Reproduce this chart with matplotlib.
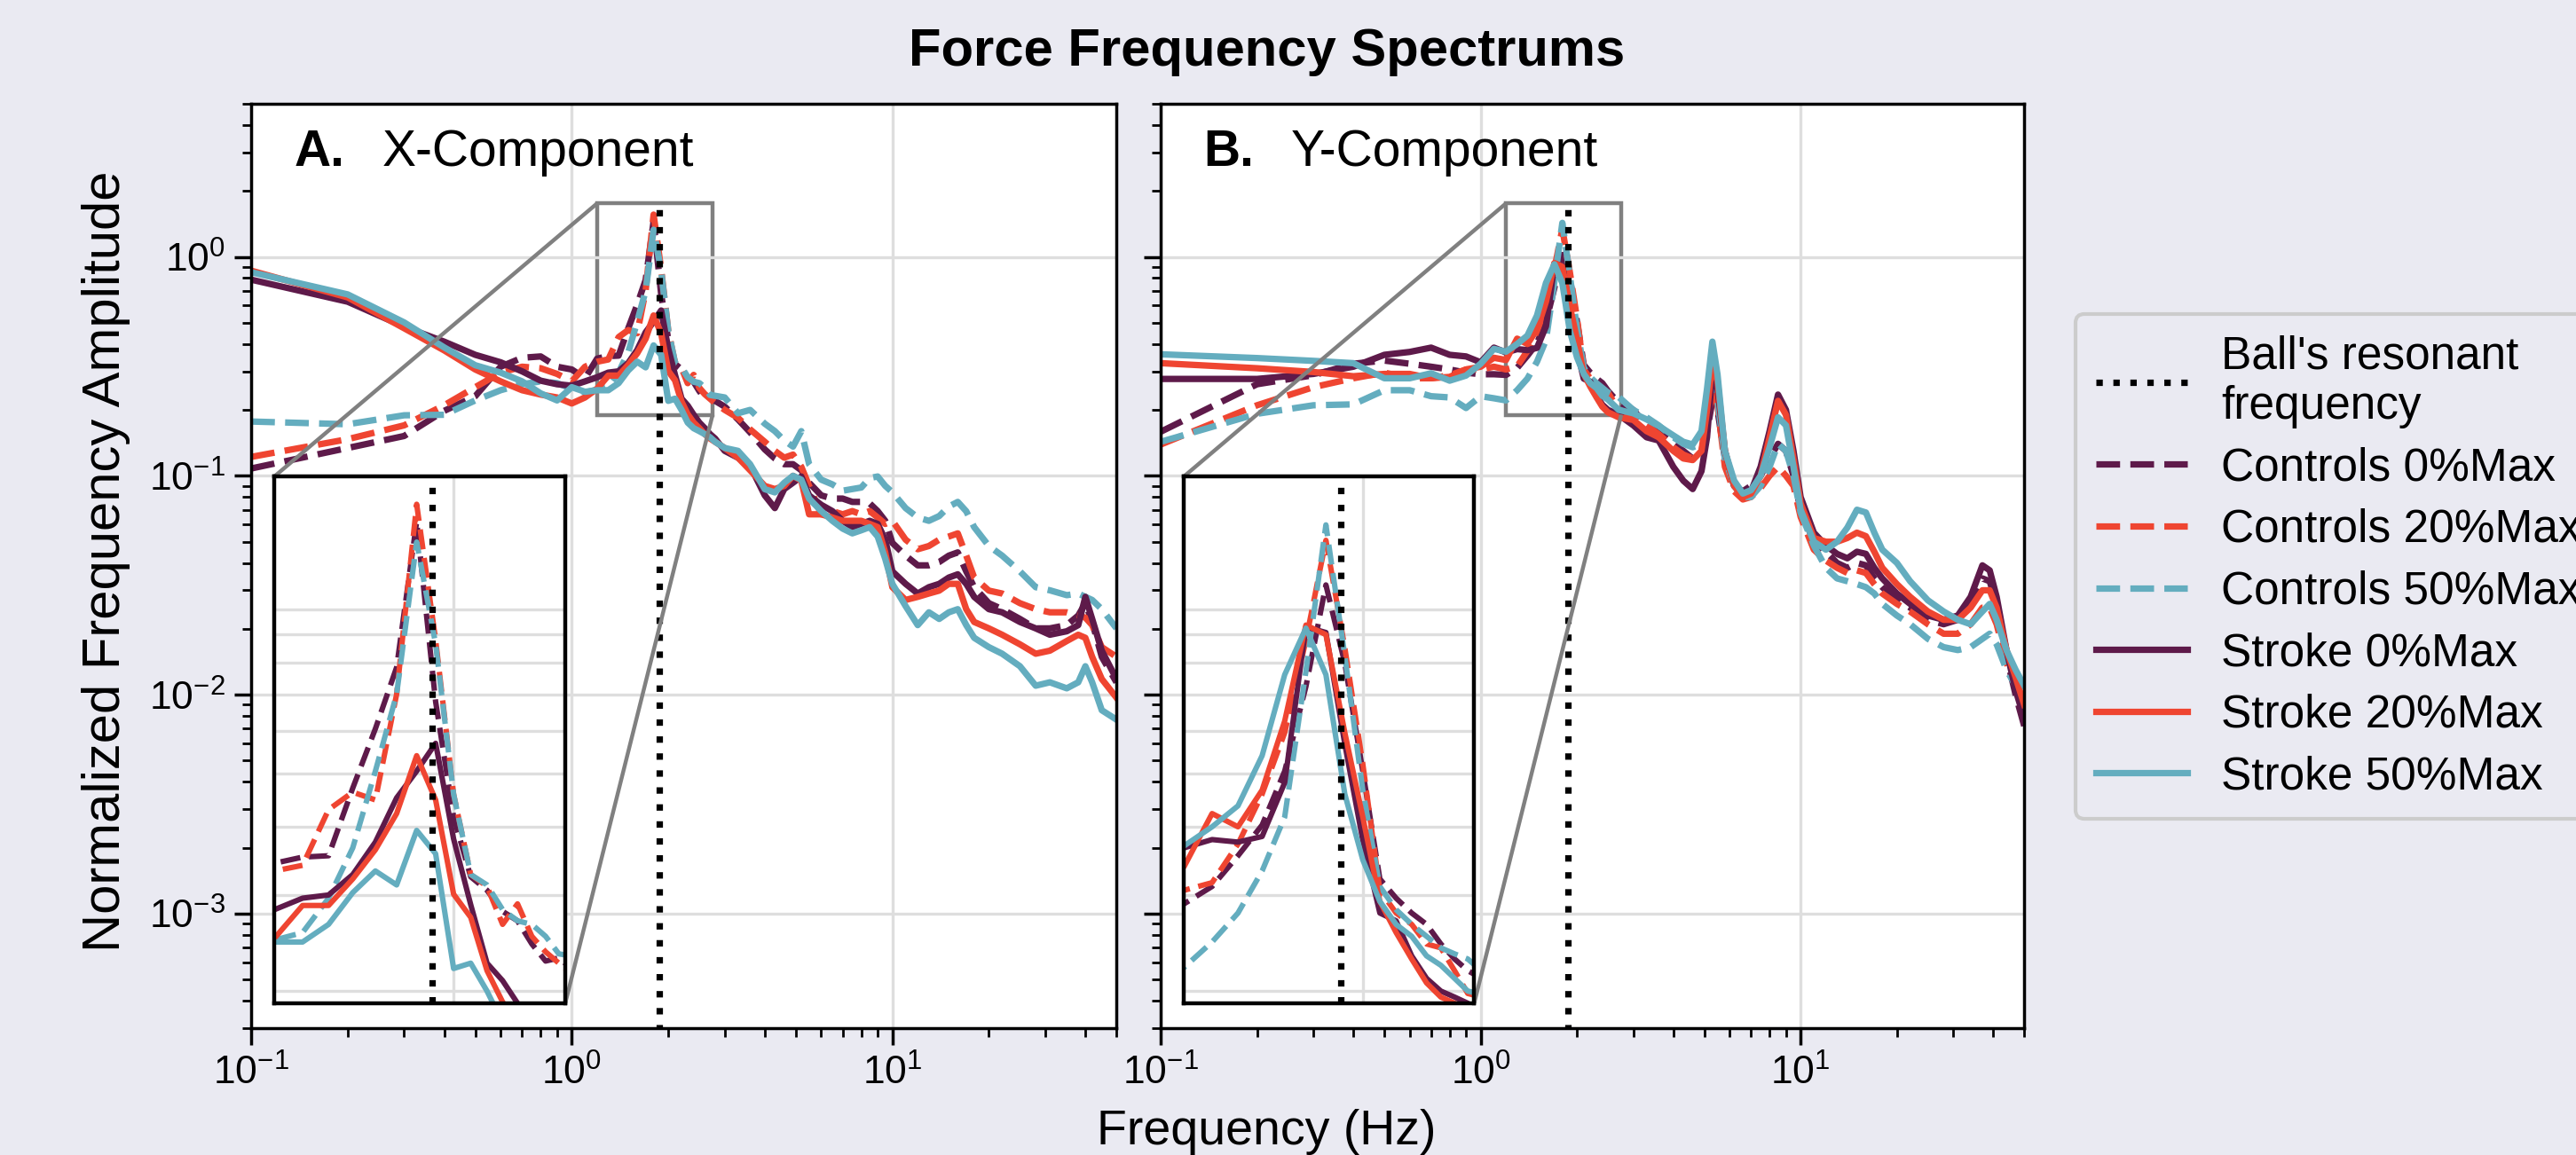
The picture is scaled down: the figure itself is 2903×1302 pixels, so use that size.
import matplotlib.pyplot as plt
from matplotlib.ticker import FixedLocator, NullLocator
from mpl_toolkits.axes_grid1.inset_locator import mark_inset

plt.rcParams['font.family'] = ['Liberation Sans', 'DejaVu Sans']
plt.rcParams['mathtext.fontset'] = 'custom'
plt.rcParams['mathtext.rm'] = 'Liberation Sans'
plt.rcParams['mathtext.it'] = 'Liberation Sans:italic'
plt.rcParams['mathtext.bf'] = 'Liberation Sans:bold'

# ==========================================
# data
# ==========================================
freq_res = 1.88  # ball's resonant frequency (Hz)

# frequency bins, X-component
freq_x = [0.1, 0.2, 0.3, 0.4, 0.5, 0.6, 0.7, 0.8, 0.9, 1.0, 1.1, 1.2, 1.3, 1.4,
          1.5, 1.6, 1.7, 1.8, 1.9, 2.0, 2.1, 2.2, 2.3, 2.4, 2.5, 2.6, 2.7,
          2.8, 3.0, 3.3, 3.6, 4.0, 4.3, 4.6, 4.9, 5.2, 5.5, 6.0, 6.5, 7.0, 7.5,
          8.0, 8.5, 9.0, 9.5, 10, 11, 12, 13, 14, 15, 16, 17, 18, 20, 22, 25,
          28, 31, 35, 38, 40, 42, 45, 50]

x_ctrl_0 = [0.108, 0.134, 0.152, 0.198, 0.231, 0.315, 0.346, 0.351, 0.315, 0.306, 0.279, 0.343, 0.352, 0.354,
            0.471, 0.605, 0.784, 1.45, 0.678, 0.417, 0.324, 0.306, 0.28, 0.269, 0.244, 0.227, 0.23,
            0.22, 0.207, 0.181, 0.158, 0.132, 0.12, 0.113, 0.113, 0.106, 0.093, 0.0814, 0.0787, 0.0787, 0.076,
            0.076, 0.0748, 0.069, 0.0623, 0.0494, 0.0432, 0.039, 0.039, 0.0404, 0.0432, 0.0447, 0.0366, 0.031,
            0.0262, 0.0246, 0.0222, 0.0201, 0.0201, 0.0208, 0.023, 0.0262, 0.0215, 0.0149, 0.0114]
x_ctrl_20 = [0.122, 0.147, 0.17, 0.21, 0.254, 0.296, 0.315, 0.31, 0.292, 0.27, 0.315, 0.332, 0.34, 0.43,
             0.463, 0.448, 0.70, 1.56, 0.88, 0.459, 0.327, 0.311, 0.265, 0.289, 0.252, 0.236, 0.225,
             0.215, 0.2, 0.184, 0.163, 0.143, 0.13, 0.121, 0.125, 0.11, 0.09, 0.0667, 0.069, 0.0667, 0.069,
             0.0667, 0.069, 0.0645, 0.0603, 0.0623, 0.0511, 0.0462, 0.0478, 0.0511, 0.0528, 0.0546, 0.0432, 0.0343,
             0.0299, 0.029, 0.0262, 0.0246, 0.0238, 0.0238, 0.023, 0.0225, 0.0208, 0.0165, 0.0149]
x_ctrl_50 = [0.177, 0.172, 0.189, 0.19, 0.221, 0.246, 0.262, 0.27, 0.265, 0.25, 0.24, 0.248, 0.256, 0.296,
             0.366, 0.506, 0.70, 1.33, 0.865, 0.459, 0.327, 0.313, 0.282, 0.269, 0.265, 0.252, 0.234,
             0.232, 0.228, 0.193, 0.20, 0.173, 0.16, 0.145, 0.136, 0.16, 0.113, 0.096, 0.0914, 0.0855, 0.087,
             0.0884, 0.0977, 0.0993, 0.090, 0.0841, 0.0712, 0.0645, 0.0623, 0.0655, 0.0724, 0.076, 0.0689, 0.0583,
             0.0478, 0.0432, 0.0366, 0.031, 0.030, 0.0285, 0.029, 0.028, 0.0271, 0.0246, 0.0201]
x_stroke_0 = [0.787, 0.624, 0.48, 0.41, 0.357, 0.33, 0.30, 0.272, 0.262, 0.258, 0.27, 0.282, 0.296, 0.30,
              0.327, 0.375, 0.452, 0.506, 0.569, 0.38, 0.288, 0.225, 0.209, 0.19, 0.175, 0.165, 0.155,
              0.148, 0.13, 0.121, 0.111, 0.0814, 0.0712, 0.087, 0.093, 0.0993, 0.0814, 0.0737, 0.069, 0.0623, 0.0583,
              0.0603, 0.0623, 0.0603, 0.0511, 0.0366, 0.0321, 0.029, 0.031, 0.0321, 0.0343, 0.0355, 0.0321, 0.028,
              0.0246, 0.0238, 0.0215, 0.0201, 0.0188, 0.0195, 0.0208, 0.028, 0.0222, 0.0159, 0.0118]
x_stroke_20 = [0.865, 0.653, 0.472, 0.374, 0.306, 0.27, 0.246, 0.235, 0.228, 0.214, 0.228, 0.25, 0.287, 0.287,
               0.321, 0.363, 0.423, 0.54, 0.448, 0.301, 0.273, 0.218, 0.191, 0.175, 0.165, 0.155, 0.148,
               0.143, 0.134, 0.121, 0.106, 0.0899, 0.087, 0.0899, 0.1, 0.095, 0.0667, 0.0667, 0.0645, 0.0623, 0.0623,
               0.0623, 0.0603, 0.0583, 0.0447, 0.031, 0.0271, 0.028, 0.029, 0.0299, 0.0321, 0.0321, 0.0246, 0.0215,
               0.0201, 0.0188, 0.017, 0.0154, 0.0159, 0.0176, 0.0188, 0.0182, 0.0149, 0.0118, 0.0097]
x_stroke_50 = [0.851, 0.674, 0.502, 0.386, 0.32, 0.296, 0.27, 0.238, 0.221, 0.254, 0.242, 0.246, 0.246, 0.265,
               0.303, 0.332, 0.313, 0.394, 0.357, 0.22, 0.225, 0.20, 0.175, 0.165, 0.16, 0.155, 0.15,
               0.143, 0.134, 0.13, 0.113, 0.0869, 0.084, 0.093, 0.1, 0.096, 0.0787, 0.069, 0.0623, 0.0574, 0.0546,
               0.0564, 0.0583, 0.0528, 0.0418, 0.0321, 0.0254, 0.0208, 0.0238, 0.0222, 0.0238, 0.0246, 0.0208, 0.0182,
               0.0165, 0.0154, 0.0135, 0.011, 0.0114, 0.0107, 0.0114, 0.0135, 0.0114, 0.0085, 0.0077]

# frequency bins, Y-component
freq_y = [0.1, 0.2, 0.3, 0.4, 0.5, 0.6, 0.7, 0.8, 0.9, 1.0, 1.1, 1.2, 1.3, 1.4,
          1.5, 1.6, 1.7, 1.8, 1.9, 2.0, 2.1, 2.2, 2.3, 2.4, 2.5, 2.6, 2.7,
          3.0, 3.3, 3.6, 4.0, 4.3, 4.6, 4.9, 5.1, 5.3, 5.5, 5.8, 6.2, 6.6, 7.0,
          7.5, 8.0, 8.5, 9.0, 9.5, 10, 11, 12, 13, 14, 15, 16, 17, 18, 20, 22,
          25, 28, 31, 34, 37, 39, 41, 44, 47, 50]

y_ctrl_0 = [0.159, 0.262, 0.288, 0.325, 0.336, 0.325, 0.315, 0.306, 0.296, 0.291, 0.291, 0.289, 0.311, 0.354,
            0.403, 0.506, 0.723, 1.11, 0.797, 0.506, 0.321, 0.296, 0.278, 0.265, 0.244, 0.229, 0.218,
            0.2, 0.17, 0.16, 0.14, 0.13, 0.12, 0.125, 0.16, 0.22, 0.2, 0.12, 0.09, 0.085, 0.09,
            0.1, 0.12, 0.14, 0.13, 0.1, 0.07, 0.05, 0.045, 0.04, 0.038, 0.04, 0.039, 0.034, 0.031, 0.027, 0.025,
            0.022, 0.021, 0.022, 0.026, 0.034, 0.033, 0.026, 0.015, 0.01, 0.0072]
y_ctrl_20 = [0.139, 0.21, 0.254, 0.279, 0.296, 0.279, 0.279, 0.288, 0.306, 0.306, 0.315, 0.306, 0.316, 0.372,
             0.459, 0.595, 0.879, 1.34, 0.851, 0.522, 0.306, 0.278, 0.265, 0.244, 0.24, 0.218, 0.198,
             0.19, 0.17, 0.155, 0.135, 0.125, 0.12, 0.13, 0.17, 0.25, 0.21, 0.11, 0.085, 0.078, 0.08,
             0.088, 0.1, 0.11, 0.1, 0.09, 0.065, 0.046, 0.041, 0.038, 0.036, 0.037, 0.036, 0.032, 0.029, 0.026, 0.024,
             0.021, 0.019, 0.019, 0.021, 0.025, 0.025, 0.021, 0.014, 0.011, 0.0085]
y_ctrl_50 = [0.143, 0.192, 0.21, 0.212, 0.246, 0.246, 0.231, 0.228, 0.204, 0.231, 0.226, 0.221, 0.246, 0.278,
             0.332, 0.417, 0.771, 1.43, 0.823, 0.467, 0.311, 0.282, 0.265, 0.252, 0.24, 0.234, 0.229,
             0.2, 0.185, 0.17, 0.15, 0.14, 0.135, 0.14, 0.2, 0.3, 0.22, 0.12, 0.09, 0.08, 0.08,
             0.09, 0.11, 0.14, 0.13, 0.1, 0.068, 0.048, 0.038, 0.034, 0.033, 0.032, 0.031, 0.029, 0.026, 0.023, 0.021,
             0.018, 0.0165, 0.016, 0.0165, 0.018, 0.019, 0.017, 0.013, 0.011, 0.0095]
y_stroke_0 = [0.277, 0.277, 0.292, 0.315, 0.357, 0.368, 0.385, 0.357, 0.351, 0.33, 0.385, 0.366, 0.379, 0.375,
              0.384, 0.482, 0.93, 0.908, 0.567, 0.378, 0.278, 0.269, 0.232, 0.211, 0.20, 0.195, 0.19,
              0.17, 0.15, 0.145, 0.11, 0.095, 0.087, 0.105, 0.15, 0.3, 0.25, 0.13, 0.09, 0.082, 0.085,
              0.11, 0.16, 0.235, 0.2, 0.13, 0.08, 0.055, 0.048, 0.044, 0.042, 0.045, 0.044, 0.038, 0.034, 0.029, 0.026,
              0.023, 0.022, 0.023, 0.028, 0.039, 0.037, 0.028, 0.016, 0.0105, 0.0078]
y_stroke_20 = [0.327, 0.31, 0.298, 0.285, 0.292, 0.292, 0.279, 0.283, 0.306, 0.315, 0.346, 0.338, 0.423, 0.40,
               0.467, 0.625, 0.937, 0.90, 0.595, 0.417, 0.292, 0.256, 0.229, 0.207, 0.195, 0.19, 0.185,
               0.18, 0.16, 0.15, 0.13, 0.12, 0.118, 0.13, 0.2, 0.33, 0.27, 0.13, 0.09, 0.08, 0.083,
               0.1, 0.15, 0.22, 0.19, 0.12, 0.075, 0.052, 0.05, 0.05, 0.052, 0.055, 0.053, 0.045, 0.038, 0.032, 0.028,
               0.024, 0.022, 0.022, 0.025, 0.03, 0.03, 0.025, 0.016, 0.012, 0.009]
y_stroke_50 = [0.359, 0.345, 0.335, 0.327, 0.279, 0.279, 0.294, 0.272, 0.287, 0.325, 0.38, 0.369, 0.40, 0.437,
               0.54, 0.76, 0.925, 0.76, 0.459, 0.348, 0.292, 0.265, 0.252, 0.232, 0.223, 0.211, 0.20,
               0.193, 0.181, 0.169, 0.153, 0.143, 0.139, 0.16, 0.25, 0.41, 0.29, 0.13, 0.095, 0.083, 0.086,
               0.1, 0.135, 0.185, 0.17, 0.11, 0.07, 0.05, 0.046, 0.05, 0.058, 0.07, 0.068, 0.055, 0.046, 0.04, 0.033,
               0.027, 0.024, 0.022, 0.021, 0.024, 0.026, 0.022, 0.016, 0.013, 0.011]

labels = ['Controls 0%Max', 'Controls 20%Max', 'Controls 50%Max',
          'Stroke 0%Max', 'Stroke 20%Max', 'Stroke 50%Max']

# ==========================================
# style
# ==========================================
bg = '#eaeaf2'
purple = '#5e1a4a'
red = '#ef4531'
teal = '#64adbf'
colors = [purple, red, teal, purple, red, teal]
styles = ['--', '--', '--', '-', '-', '-']
grid_c = '#dedede'


def draw_panel(ax, freq, curves, letter, name):
    ax.set_facecolor('white')
    handles = []
    for amp, c, ls, lab in zip(curves, colors, styles, labels):
        h, = ax.plot(freq, amp, color=c, ls=ls, lw=2.6, label=lab)
        handles.append(h)
    res, = ax.plot([freq_res, freq_res], [1e-4, 1.8], color='black', ls=':', lw=2.6)

    ax.set_xscale('log')
    ax.set_yscale('log')
    ax.set_xlim(0.1, 50)
    ax.set_ylim(3e-4, 5)
    ax.grid(True, which='major', color=grid_c, lw=1.2)
    ax.tick_params(which='major', direction='out', length=7, width=1.25, labelsize=16, color='black')
    ax.tick_params(which='minor', direction='out', length=3.5, width=1.0, color='black')
    for s in ax.spines.values():
        s.set_color('black')
        s.set_linewidth(1.25)

    ax.text(0.05, 0.947, letter, transform=ax.transAxes, fontsize=20.5, fontweight='bold', va='center')
    ax.text(0.151, 0.947, name, transform=ax.transAxes, fontsize=20.5, va='center')

    # zoom on the resonance
    axins = ax.inset_axes([0.027, 0.027, 0.336, 0.57])
    axins.set_facecolor('white')
    for amp, c, ls in zip(curves, colors, styles):
        axins.plot(freq, amp, color=c, ls=ls, lw=2.2)
    axins.plot([freq_res, freq_res], [1e-4, 1.8], color='black', ls=':', lw=2.6)
    axins.set_xscale('log')
    axins.set_yscale('log')
    axins.set_xlim(1.2, 2.75)
    axins.set_ylim(0.19, 1.755)
    # gridlines only at the log ticks (2 Hz; 0.2 ... 1.0)
    axins.xaxis.set_major_locator(NullLocator())
    axins.xaxis.set_minor_locator(FixedLocator([2.0]))
    axins.yaxis.set_major_locator(FixedLocator([1.0]))
    axins.yaxis.set_minor_locator(FixedLocator([0.2, 0.3, 0.4, 0.5, 0.6, 0.7, 0.8, 0.9]))
    axins.grid(True, which='both', color=grid_c, lw=1.2)
    axins.tick_params(which='both', length=0, labelleft=False, labelbottom=False)
    for s in axins.spines.values():
        s.set_color('black')
        s.set_linewidth(1.6)
    mark_inset(ax, axins, loc1=2, loc2=4, fc='none', ec='#808080', lw=1.6)
    return res, handles


fig = plt.figure(figsize=(14.515, 6.51), dpi=200, facecolor=bg)
ax_x = fig.add_axes([0.0975, 0.1098, 0.3359, 0.8003])
ax_y = fig.add_axes([0.4506, 0.1098, 0.3352, 0.8003], sharey=ax_x)

res, handles = draw_panel(ax_x, freq_x, [x_ctrl_0, x_ctrl_20, x_ctrl_50, x_stroke_0, x_stroke_20, x_stroke_50],
                          'A.', 'X-Component')
draw_panel(ax_y, freq_y, [y_ctrl_0, y_ctrl_20, y_ctrl_50, y_stroke_0, y_stroke_20, y_stroke_50],
           'B.', 'Y-Component')
ax_y.tick_params(labelleft=False)

fig.text(0.4917, 0.955, 'Force Frequency Spectrums', fontsize=21.5, fontweight='bold', ha='center', va='center')
fig.text(0.4917, 0.02, 'Frequency (Hz)', fontsize=20, ha='center', va='center')
fig.text(0.041, 0.514, 'Normalized Frequency Amplitude', fontsize=21.5, rotation=90, ha='center', va='center')

# legend sits against the right edge, as in the original layout
leg = fig.legend([res] + handles, ["Ball's resonant\nfrequency"] + labels,
                 loc='upper left', bbox_to_anchor=(0.8057, 0.728), fontsize=18.5,
                 frameon=True, fancybox=True, facecolor=bg, edgecolor='#cccccc', framealpha=1,
                 handlelength=2.0, handletextpad=0.75, labelspacing=0.4, borderpad=0.45, borderaxespad=0)
leg.get_frame().set_linewidth(1.5)

fig.savefig('out.png', dpi=200, facecolor=bg)
